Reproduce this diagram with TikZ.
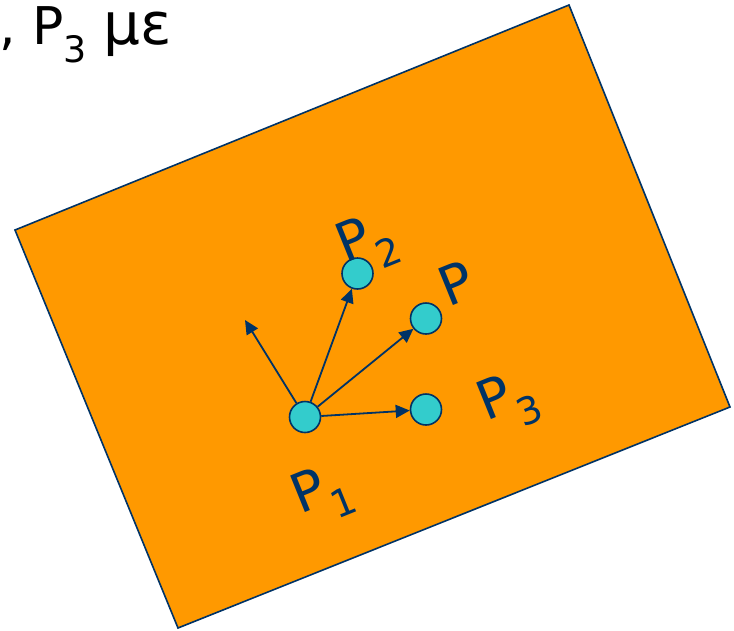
\documentclass[tikz,border=0pt]{standalone}
\usepackage{fontspec}
\setmainfont{DejaVu Sans}
\usetikzlibrary{arrows.meta}
\definecolor{orng}{HTML}{FF9900}
\definecolor{navy}{HTML}{003366}
\definecolor{cyn}{HTML}{33CCCC}
\tikzset{
  pnt/.style={circle,draw=navy,fill=cyn,line width=1.6pt,minimum size=31pt,inner sep=0pt},
  lbl/.style={text=navy,font=\fontsize{54}{60}\selectfont,rotate=22,inner sep=0pt},
  vec/.style={navy,line width=1.8pt,-{Triangle[length=14pt,width=13pt]}}
}
\begin{document}
\begin{tikzpicture}[x=1pt,y=-1pt]
  \useasboundingbox (0,0) rectangle (734,630);
  % heading, cut off at the left
  \node[anchor=base west,inner sep=0pt,font=\fontsize{52}{60}\selectfont] (ttl) at (-1,44) {, P\textsubscript{3} {\fontsize{58}{60}\selectfont με}};
  % the plane
  \draw[navy,line width=1.6pt,fill=orng] (15,230) -- (569,5) -- (730,407) -- (178,628) -- cycle;
  % points
  \node[pnt] (p1) at (305,417) {};
  \node[pnt] (p2) at (357.5,273.5) {};
  \node[pnt] (p) at (426,318.5) {};
  \node[pnt] (p3) at (426,409.5) {};
  \coordinate (up) at (245,320);
  % vectors
  \draw[vec] (p1) -- (up);
  \draw[vec] (p1) -- (p2);
  \draw[vec] (p1) -- (p);
  \draw[vec] (p1) -- (p3);
  % labels
  \node[lbl] (l2) at (368,244) {P\textsubscript{2}};
  \node[lbl] (l) at (456,283) {P};
  \node[lbl] (l3) at (509,402) {P\textsubscript{3}};
  \node[lbl] (l1) at (323,494) {P\textsubscript{1}};
\end{tikzpicture}
\end{document}
